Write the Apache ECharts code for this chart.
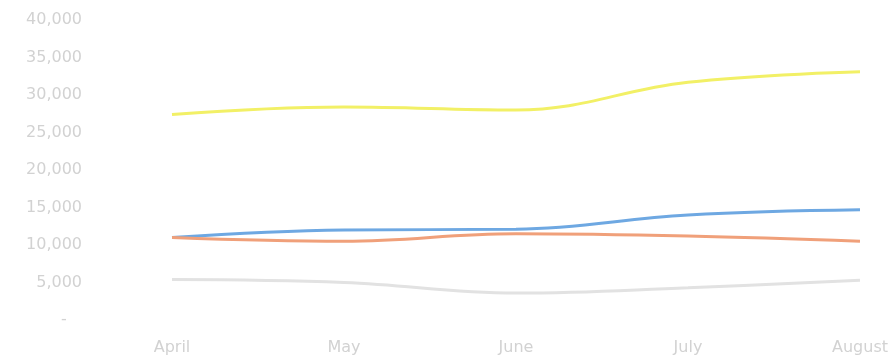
<!DOCTYPE html>
<html><head><meta charset="utf-8">
<script src="https://cdn.jsdelivr.net/npm/echarts@6/dist/echarts.min.js"></script>
<style>html,body{margin:0;padding:0;background:#fff}#c{width:896px;height:362px}</style>
</head><body><div id="c"></div>
<script>
const categories = ['April', 'May', 'June', 'July', 'August'];
const yellowSeries = [27400, 28400, 28000, 31700, 33100];
const blueSeries = [11000, 12000, 12100, 14000, 14700];
const orangeSeries = [11000, 10500, 11500, 11200, 10500];
const graySeries = [5400, 5000, 3600, 4300, 5300];
const yTicks = { min: 0, max: 40000, interval: 5000 };

const chart = echarts.init(document.getElementById('c'), null, { renderer: 'canvas' });
const mk = (data, color, z) => ({
  type: 'line', data, smooth: 0.4, symbol: 'none', z,
  lineStyle: { color, width: 3 }, itemStyle: { color }
});
chart.setOption({
  animation: false,
  grid: { left: 172, right: 36, top: 20, bottom: 42 },
  xAxis: {
    type: 'category', data: categories, boundaryGap: false,
    axisLine: { show: false }, axisTick: { show: false },
    axisLabel: { color: '#d2d2d2', fontSize: 16, fontFamily: 'DejaVu Sans', margin: 20 }
  },
  yAxis: {
    type: 'value', min: yTicks.min, max: yTicks.max, interval: yTicks.interval,
    splitLine: { show: false }, axisLine: { show: false }, axisTick: { show: false },
    axisLabel: {
      color: '#d2d2d2', fontSize: 16, fontFamily: 'DejaVu Sans', margin: 90,
      formatter: v => v === 0 ? '-   ' : v.toLocaleString('en-US')
    }
  },
  series: [
    mk(graySeries, '#e2e2e2', 1),
    mk(yellowSeries, '#f2f066', 2),
    mk(blueSeries, '#6ea8e2', 3),
    mk(orangeSeries, '#f0a07a', 4)
  ]
});
</script></body></html>
